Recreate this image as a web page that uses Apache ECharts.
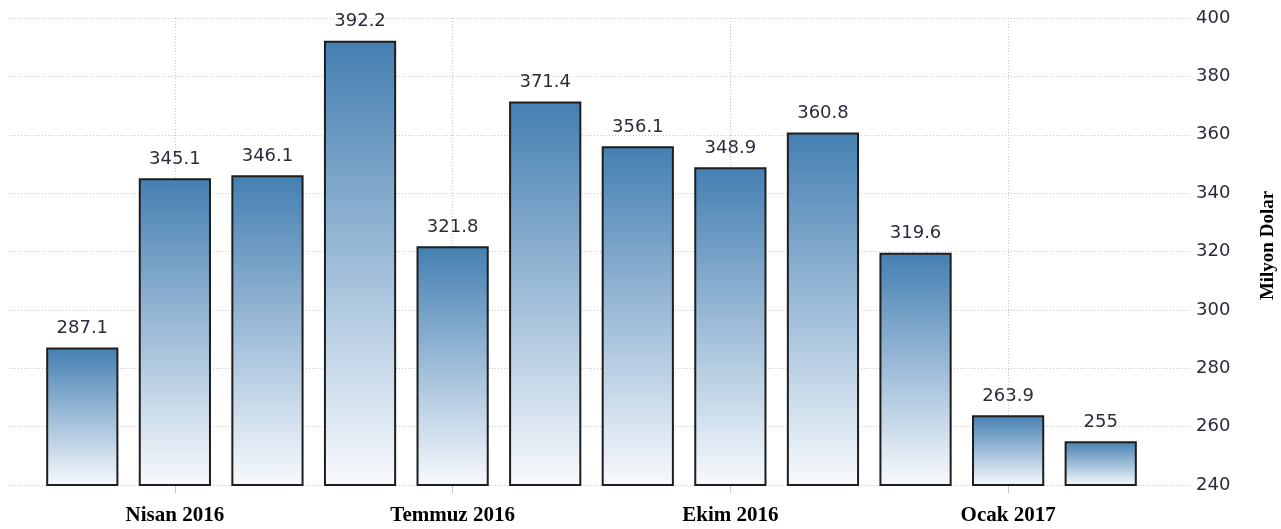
<!DOCTYPE html>
<html>
<head>
<meta charset="utf-8">
<title>Milyon Dolar</title>
<script src="https://cdn.jsdelivr.net/npm/echarts@6/dist/echarts.min.js"></script>
<style>
  html, body { margin: 0; padding: 0; background: #fff; }
  #chart-box { width: 1281px; height: 529px; }
</style>
</head>
<body>
<!-- aylık değerler, sütun grafik -->
<div id="chart-box"></div>
<script>
var months = ['Mart 2016', 'Nisan 2016', 'Mayıs 2016', 'Haziran 2016', 'Temmuz 2016', 'Ağustos 2016',
  'Eylül 2016', 'Ekim 2016', 'Kasım 2016', 'Aralık 2016', 'Ocak 2017', 'Şubat 2017']
var values = [287.1, 345.1, 346.1, 392.2, 321.8, 371.4, 356.1, 348.9, 360.8, 319.6, 263.9, 255]
var yTicks = [240, 260, 280, 300, 320, 340, 360, 380, 400]
// only every third month gets a label / tick / vertical grid line
var shownMonths = ['Nisan 2016', 'Temmuz 2016', 'Ekim 2016', 'Ocak 2017']

var yMin = yTicks[0]
var yMax = yTicks[yTicks.length - 1]
var yStep = yTicks[1] - yTicks[0]

function isShown(index, value) {
  return shownMonths.indexOf(months[index]) !== -1
}

var chartDom = document.getElementById('chart-box')
var myChart = echarts.init(chartDom)

var dotted = {
  color: '#c6c6c6',
  width: 1,
  type: [1, 2]
}

var option = {
  animation: false,
  grid: [
    // wide grid: only the horizontal dotted lines and the right value axis
    { left: 9, right: 92, top: 18, bottom: 44, outerBoundsMode: 'none' },
    // narrow grid: the bars
    { left: 36, right: 134, top: 18, bottom: 44, outerBoundsMode: 'none' }
  ],
  xAxis: [
    {
      gridIndex: 0,
      type: 'value',
      show: false
    },
    {
      gridIndex: 1,
      type: 'category',
      data: months,
      boundaryGap: true,
      axisLine: { show: false },
      axisTick: {
        show: true,
        alignWithLabel: true,
        interval: isShown,
        length: 8,
        lineStyle: { color: '#c6c6c6' }
      },
      axisLabel: {
        interval: isShown,
        margin: 20,
        color: '#000',
        fontFamily: '"Times New Roman", "Liberation Serif", serif',
        fontWeight: 'bold',
        fontSize: 21
      },
      splitLine: {
        show: true,
        alignWithLabel: true,
        interval: isShown,
        lineStyle: dotted
      }
    }
  ],
  yAxis: [
    {
      gridIndex: 0,
      type: 'value',
      position: 'right',
      min: yMin,
      max: yMax,
      interval: yStep,
      axisLine: { show: false },
      axisTick: { show: false },
      axisLabel: {
        margin: 7,
        color: '#2b2b3a',
        fontFamily: 'Verdana, "DejaVu Sans", sans-serif',
        fontSize: 18
      },
      splitLine: { show: true, lineStyle: dotted },
      name: 'Milyon Dolar',
      nameLocation: 'middle',
      nameRotate: 90,
      nameGap: 70,
      nameTextStyle: {
        color: '#000',
        fontFamily: '"Times New Roman", "Liberation Serif", serif',
        fontWeight: 'bold',
        fontSize: 19,
        padding: [0, 0, 0, 12]
      }
    },
    {
      gridIndex: 1,
      type: 'value',
      min: yMin,
      max: yMax,
      interval: yStep,
      show: false
    }
  ],
  series: [
    {
      type: 'bar',
      xAxisIndex: 1,
      yAxisIndex: 1,
      data: values,
      barCategoryGap: '22%',
      silent: true,
      // each bar goes from steel blue on top to almost white at the base
      itemStyle: {
        borderColor: '#1e1e1e',
        borderWidth: 2,
        color: new echarts.graphic.LinearGradient(0, 0, 0, 1, [
          { offset: 0, color: '#447fb2' },
          { offset: 1, color: '#f8fafd' }
        ])
      },
      label: {
        show: true,
        position: 'top',
        distance: 10,
        color: '#2b2b3a',
        fontFamily: 'Verdana, "DejaVu Sans", sans-serif',
        fontSize: 18
      }
    }
  ]
}
option && myChart.setOption(option)
</script>
</body>
</html>
